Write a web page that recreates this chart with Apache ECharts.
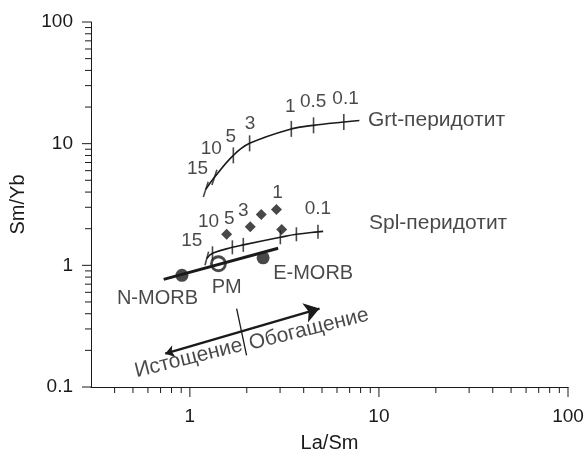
<!DOCTYPE html>
<html>
<head>
<meta charset="utf-8">
<script src="https://cdn.jsdelivr.net/npm/echarts@6/dist/echarts.min.js"></script>
<style>
    html, body { margin: 0; padding: 0; background: #fff; }
    #chart { width: 587px; height: 453px; }
</style>
</head>
<body>
<div id="chart"></div>
<script>
//оси
var X_MIN = 0.3, X_MAX = 100;
var Y_MIN = 0.1, Y_MAX = 100;
var xMajor = [1, 10, 100];
var yMajor = [0.1, 1, 10, 100];
var xMinor = [0.4, 0.5, 0.6, 0.7, 0.8, 0.9, 2, 3, 4, 5, 6, 7, 8, 9, 20, 30, 40, 50, 60, 70, 80, 90];
var yMinor = [0.2, 0.3, 0.4, 0.5, 0.6, 0.7, 0.8, 0.9, 2, 3, 4, 5, 6, 7, 8, 9, 20, 30, 40, 50, 60, 70, 80, 90];

//степень плавления, %
var meltDeg = ['15', '10', '5', '3', '1', '0.5', '0.1'];

//кривая Grt-перидотит
var grtTicks = [[1.214, 4.21], [1.349, 5.29], [1.698, 8.01], [2.07, 10.06], [3.44, 13.23], [4.51, 14.14], [6.52, 15.05]];
var grtEnd = [7.88, 15.5];
var grtLabelPos = [[1.099, 6.27], [1.298, 9.15], [1.644, 11.48], [2.082, 14.54], [3.40, 19.98], [4.49, 21.97], [6.66, 23.56]];

//кривая Spl-перидотит
var splTicks = [[1.229, 1.14], [1.317, 1.255], [1.678, 1.406], [1.917, 1.473], [3.01, 1.70], [3.66, 1.80], [4.76, 1.885]];
var splEnd = [5.07, 1.90];
var splLabelPos = [[1.024, 1.59], [1.254, 2.27], [1.614, 2.43], [1.917, 2.83], [2.905, 3.98], null, [4.76, 2.94]];

//образцы
var samples = [[1.565, 1.80], [2.087, 2.08], [2.385, 2.615], [2.87, 2.875], [3.06, 1.97]];

//N-MORB - PM - E-MORB
var morbLine = [[0.727, 0.767], [2.93, 1.38]];
var nMorb = [0.908, 0.828];
var pm = [1.416, 1.03];
var eMorb = [2.44, 1.152];

//стрелка истощение/обогащение
var arrowLine = [[0.741, 0.188], [4.85, 0.441]];
var dividerLine = [[1.768, 0.4406], [1.995, 0.182]];

//подписи
var textNotes = [
    { name: 'N-MORB', value: [0.674, 0.536] },
    { name: 'PM', value: [1.566, 0.659] },
    { name: 'E-MORB', value: [4.49, 0.855] }
];
var sideNotes = [
    { name: 'Grt-перидотит', value: [8.75, 15.54] },
    { name: 'Spl-перидотит', value: [8.86, 2.20] }
];
var arrowNotes = [
    { name: 'Истощение', value: [0.984, 0.172] },
    { name: 'Обогащение', value: [4.26, 0.298] }
];

var INK = '#1a1a1a';
var FONT = "'Liberation Sans', Arial, sans-serif";

var chart = echarts.init(document.getElementById('chart'));

function tickSeries(values, isX, len) {
    return {
        type: 'custom',
        silent: true,
        clip: false,
        data: values.map(function (v) { return isX ? [v, Y_MIN] : [X_MIN, v]; }),
        renderItem: function (params, api) {
            var p = api.coord([api.value(0), api.value(1)]);
            var shape = isX
                ? { x1: p[0], y1: p[1], x2: p[0], y2: p[1] + len }
                : { x1: p[0], y1: p[1], x2: p[0] - len, y2: p[1] };
            return { type: 'line', shape: shape, style: { stroke: INK, lineWidth: 1 } };
        }
    };
}

function labelPoints(pos, names) {
    var out = [];
    for (var i = 0; i < pos.length; i++) {
        if (pos[i]) {
            out.push({ name: names[i], value: pos[i] });
        }
    }
    return out;
}

function noteSeries(data, extra) {
    var label = {
        show: true,
        position: 'inside',
        formatter: '{b}',
        color: INK,
        fontSize: 20,
        fontFamily: FONT
    };
    for (var k in extra) {
        label[k] = extra[k];
    }
    return {
        type: 'scatter',
        silent: true,
        symbolSize: 0,
        data: data,
        label: label
    };
}

var option = {
    animation: false,
    backgroundColor: '#fff',
    grid: {
        left: 91,
        right: 19,
        top: 22,
        bottom: 66,
        containLabel: false,
        outerBoundsMode: 'none'
    },
    xAxis: {
        type: 'log',
        min: X_MIN,
        max: X_MAX,
        name: 'La/Sm',
        nameLocation: 'middle',
        nameGap: 46,
        nameTextStyle: { color: INK, fontSize: 20, fontFamily: FONT },
        axisLine: { lineStyle: { color: INK, width: 1 } },
        axisTick: { show: false },
        splitLine: { show: false },
        axisLabel: {
            color: INK,
            fontSize: 19,
            fontFamily: FONT,
            margin: 20,
            formatter: function (v) {
                return xMajor.indexOf(v) >= 0 ? String(v) : '';
            }
        }
    },
    yAxis: {
        type: 'log',
        min: Y_MIN,
        max: Y_MAX,
        name: 'Sm/Yb',
        nameLocation: 'middle',
        nameGap: 63,
        nameTextStyle: { color: INK, fontSize: 20, fontFamily: FONT },
        axisLine: { lineStyle: { color: INK, width: 1 } },
        axisTick: { show: false },
        splitLine: { show: false },
        axisLabel: {
            color: INK,
            fontSize: 19,
            fontFamily: FONT,
            margin: 18,
            formatter: function (v) {
                return yMajor.indexOf(v) >= 0 ? String(v) : '';
            }
        }
    },
    series: [
        tickSeries(xMajor, true, 10),
        tickSeries(xMinor, true, 6),
        tickSeries(yMajor, false, 9),
        tickSeries(yMinor, false, 6),
        {
            //Grt-перидотит
            type: 'line',
            smooth: 0.4,
            showSymbol: false,
            lineStyle: { color: INK, width: 1.6 },
            data: grtTicks.concat([grtEnd])
        },
        {
            type: 'scatter',
            symbol: 'rect',
            symbolSize: [1.6, 16],
            itemStyle: { color: INK },
            data: grtTicks.map(function (p, i) {
                return { value: p, symbolRotate: i < 2 ? -18 : 0 };
            })
        },
        {
            //Spl-перидотит
            type: 'line',
            smooth: 0.4,
            showSymbol: false,
            lineStyle: { color: INK, width: 1.6 },
            data: splTicks.concat([splEnd])
        },
        {
            type: 'scatter',
            symbol: 'rect',
            symbolSize: [1.6, 14],
            itemStyle: { color: INK },
            data: splTicks.map(function (p, i) {
                return { value: p, symbolRotate: i < 1 ? -15 : 0 };
            })
        },
        {
            //MORB
            type: 'line',
            showSymbol: false,
            lineStyle: { color: INK, width: 3 },
            data: morbLine
        },
        {
            type: 'scatter',
            symbol: 'diamond',
            symbolSize: 11,
            itemStyle: { color: INK },
            data: samples
        },
        {
            type: 'scatter',
            symbol: 'circle',
            symbolSize: 13,
            itemStyle: { color: INK },
            data: [nMorb, eMorb]
        },
        {
            type: 'scatter',
            symbol: 'circle',
            symbolSize: 14,
            itemStyle: { color: '#fff', borderColor: INK, borderWidth: 2.8 },
            data: [pm]
        },
        {
            type: 'lines',
            coordinateSystem: 'cartesian2d',
            symbol: ['arrow', 'arrow'],
            symbolSize: [9, 15],
            lineStyle: { color: INK, width: 2.5, opacity: 1 },
            data: [{ coords: arrowLine }]
        },
        {
            type: 'lines',
            coordinateSystem: 'cartesian2d',
            symbol: ['none', 'none'],
            lineStyle: { color: INK, width: 1.3, opacity: 1 },
            data: [{ coords: dividerLine }]
        },
        noteSeries(labelPoints(grtLabelPos, meltDeg), { fontSize: 19 }),
        noteSeries(labelPoints(splLabelPos, meltDeg), { fontSize: 19 }),
        noteSeries(textNotes, {}),
        noteSeries(sideNotes, { position: 'right', distance: 0, fontSize: 21 }),
        noteSeries(arrowNotes, { rotate: 14, fontSize: 21 })
    ]
};
chart.setOption(option);
</script>
</body>
</html>
